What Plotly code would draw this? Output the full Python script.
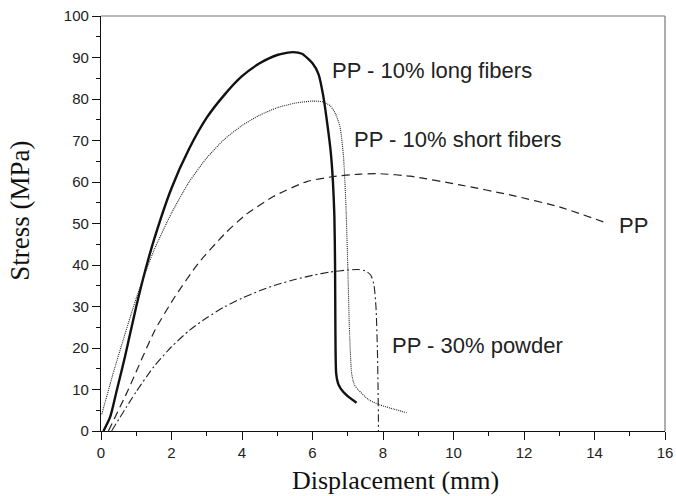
import plotly.graph_objects as go

# Stress–displacement curves (displacement in mm, stress in MPa)
long_x = [0.07, 0.26, 0.45, 0.68, 1.0, 1.25, 1.5, 2.0, 2.5, 3.0, 3.5, 4.0, 4.5, 5.0, 5.45,
          5.7, 6.0, 6.17, 6.3, 6.42, 6.52, 6.58, 6.62, 6.64, 6.65, 6.67, 6.72, 6.8, 6.98, 7.25]
long_y = [0, 3.4, 9.9, 17.9, 30, 38.5, 46, 58.5, 68, 75.5, 81, 85.5, 88.6, 90.6, 91.3,
          90.9, 88.6, 86.0, 81, 74, 67, 60, 52, 40, 24, 14, 11.6, 10.2, 8.5, 6.8]

short_x = [0.02, 0.4, 1.0, 1.5, 2.0, 2.5, 3.0, 3.5, 4.0, 4.5, 5.0, 5.5, 6.0, 6.3, 6.5,
           6.65, 6.78, 6.88, 6.95, 7.0, 7.05, 7.11, 7.18, 7.3, 7.6, 7.91, 8.3, 8.67]
short_y = [4, 15.5, 32, 43.5, 52.5, 60, 65.8, 70.3, 73.6, 76.1, 77.9, 79, 79.5, 79.3, 78.4,
           76.5, 73.3, 66.1, 54, 40, 24, 13.9, 11.3, 9.9, 7.5, 6.3, 5.3, 4.4]

pp_x = [0.21, 0.77, 1.53, 2.1, 2.76, 3.52, 4.09, 4.89, 5.84, 6.59, 7.35, 7.9, 8.77,
        10.18, 11.6, 13.0, 14.25]
pp_y = [0, 9.9, 24.3, 32.4, 40.4, 47.6, 52, 56.5, 60.1, 61.3, 61.9, 62.0, 61.4,
        59.3, 56.9, 54, 50.4]

powder_x = [0.3, 1.0, 1.5, 2.0, 2.5, 3.0, 3.5, 4.0, 4.5, 5.0, 5.5, 6.0, 6.5, 7.0, 7.3,
            7.5, 7.65, 7.74, 7.8, 7.84, 7.86, 7.87, 7.87]
powder_y = [0, 9.5, 15.5, 20.3, 24.2, 27.3, 29.9, 32.0, 33.8, 35.3, 36.5, 37.5, 38.3, 38.8,
            38.9, 38.6, 37.6, 35.4, 30, 20, 10, 3, 0]

labels = ["PP - 10% long fibers", "PP - 10% short fibers", "PP", "PP - 30% powder"]
label_x = [6.5, 7.11, 14.63, 8.2]
label_y = [86.9, 70.2, 49.5, 20.6]

x_ticks = [0, 2, 4, 6, 8, 10, 12, 14, 16]
y_ticks = [0, 10, 20, 30, 40, 50, 60, 70, 80, 90, 100]

line_style = dict(shape="spline", smoothing=0.6)

fig = go.Figure()
fig.add_trace(go.Scatter(x=long_x, y=long_y, mode="lines",
                         line=dict(color="#111111", width=2.4, **line_style), name=labels[0]))
fig.add_trace(go.Scatter(x=short_x, y=short_y, mode="lines",
                         line=dict(color="#222222", width=1.1, dash="1px,1px", **line_style),
                         name=labels[1]))
fig.add_trace(go.Scatter(x=pp_x, y=pp_y, mode="lines",
                         line=dict(color="#222222", width=1.2, dash="8px,5px", **line_style),
                         name=labels[2]))
fig.add_trace(go.Scatter(x=powder_x, y=powder_y, mode="lines",
                         line=dict(color="#222222", width=1.1, dash="8px,3px,2px,3px", **line_style),
                         name=labels[3]))

for t, lx, ly in zip(labels, label_x, label_y):
    fig.add_annotation(x=lx, y=ly, text=t, showarrow=False, xanchor="left", yanchor="middle",
                       font=dict(family="Liberation Sans, Arial", size=22, color="#222222"))

# axis titles
title_font = dict(family="Liberation Serif, Times New Roman", size=26, color="#111111")
fig.add_annotation(text="Displacement (mm)", xref="paper", yref="paper", x=0.522, y=-0.12,
                   xanchor="center", yanchor="middle", showarrow=False, font=title_font)
fig.add_annotation(text="Stress (MPa)", xref="paper", yref="paper", x=-0.144, y=0.53,
                   xanchor="center", yanchor="middle", showarrow=False, textangle=-90,
                   font=dict(family="Liberation Serif, Times New Roman", size=27, color="#111111"))

axis_common = dict(
    showgrid=False, zeroline=False, showline=True, linecolor="#111111", linewidth=1.3,
    ticks="outside", ticklen=8, tickwidth=1.3, tickcolor="#111111", automargin=False,
    tickfont=dict(family="Liberation Sans, Arial", size=15, color="#222222"),
)
fig.update_xaxes(range=[0, 16], tickvals=x_ticks, ticktext=[str(v) for v in x_ticks],
                 minor=dict(dtick=1, ticks="outside", ticklen=4, tickwidth=1.3, tickcolor="#111111"),
                 **axis_common)
fig.update_yaxes(range=[0, 100], tickvals=y_ticks, ticktext=[str(v) for v in y_ticks],
                 minor=dict(dtick=5, ticks="outside", ticklen=4, tickwidth=1.3, tickcolor="#111111"),
                 **axis_common)

# thin grey frame on the top and right sides
fig.add_shape(type="line", xref="paper", yref="paper", x0=0, x1=1, y0=1, y1=1,
              line=dict(color="#777777", width=1.2))
fig.add_shape(type="line", xref="paper", yref="paper", x0=1, x1=1, y0=0, y1=1,
              line=dict(color="#777777", width=1.2))

fig.update_layout(width=676, height=496, margin=dict(l=101, r=11, t=16, b=65),
                  paper_bgcolor="white", plot_bgcolor="white", showlegend=False)

fig.write_html("out.html")
